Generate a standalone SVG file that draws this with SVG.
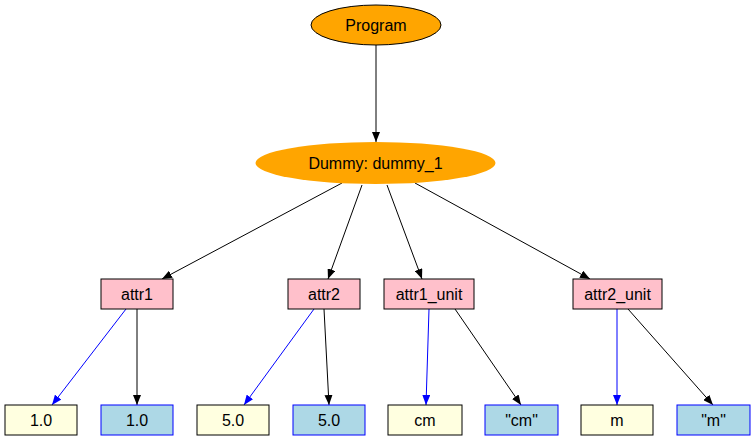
<svg xmlns="http://www.w3.org/2000/svg" width="755" height="440" viewBox="0 0 755 440">
<style>
text{font-family:"Liberation Sans",Arial,sans-serif;font-size:16px;text-anchor:middle;dominant-baseline:central;fill:#000}
.e{stroke:#000;stroke-width:1;fill:none;marker-end:url(#ab)}
.b{stroke:#0000ff;stroke-width:1;fill:none;marker-end:url(#abl)}
.pink{fill:#ffc0cb;stroke:#000;stroke-width:1}
.yel{fill:#ffffe0;stroke:#000;stroke-width:1}
.blu{fill:#add8e6;stroke:#0000ff;stroke-width:1}
</style>
<defs>
<marker id="ab" markerWidth="10" markerHeight="8" refX="10" refY="4" orient="auto" markerUnits="userSpaceOnUse"><path d="M0,0 L10,4 L0,8 z" fill="#000"/></marker>
<marker id="abl" markerWidth="10" markerHeight="8" refX="10" refY="4" orient="auto" markerUnits="userSpaceOnUse"><path d="M0,0 L10,4 L0,8 z" fill="#0000ff"/></marker>
</defs>
<rect width="755" height="440" fill="#fff"/>
<g id="edges">
<line class="e" x1="376" y1="45" x2="376" y2="142"/>
<line class="e" x1="342" y1="183" x2="162" y2="279"/>
<line class="e" x1="362" y1="185" x2="328" y2="279"/>
<line class="e" x1="387" y1="185" x2="422" y2="279"/>
<line class="e" x1="415" y1="183" x2="590" y2="279"/>
<line class="b" x1="126" y1="309" x2="52" y2="405"/>
<line class="e" x1="137" y1="309" x2="137" y2="405"/>
<line class="b" x1="314" y1="309" x2="244" y2="405"/>
<line class="e" x1="324" y1="309" x2="329" y2="405"/>
<line class="b" x1="429" y1="309" x2="426" y2="405"/>
<line class="e" x1="455" y1="309" x2="521" y2="405"/>
<line class="b" x1="617" y1="309" x2="617" y2="405"/>
<line class="e" x1="628" y1="309" x2="713" y2="405"/>
</g>
<g id="program"><ellipse cx="376" cy="25" rx="65" ry="20" fill="#ffa500" stroke="#000"/><text x="376" y="25">Program</text></g>
<g id="dummy"><ellipse cx="375.5" cy="163" rx="120" ry="21" fill="#ffa500"/><text x="375.5" y="163">Dummy: dummy_1</text></g>
<g id="attr1"><rect class="pink" x="101" y="279" width="72" height="30"/><text x="137" y="294">attr1</text></g>
<g id="attr2"><rect class="pink" x="288" y="279" width="72" height="30"/><text x="324" y="294">attr2</text></g>
<g id="attr1_unit"><rect class="pink" x="384" y="279" width="90" height="30"/><text x="429" y="294">attr1_unit</text></g>
<g id="attr2_unit"><rect class="pink" x="573" y="279" width="89" height="30"/><text x="617.5" y="294">attr2_unit</text></g>
<g id="v1"><rect class="yel" x="5" y="405" width="72" height="30"/><text x="41" y="420">1.0</text></g>
<g id="s1"><rect class="blu" x="101" y="405" width="72" height="30"/><text x="137" y="420">1.0</text></g>
<g id="v2"><rect class="yel" x="197" y="405" width="72" height="30"/><text x="233" y="420">5.0</text></g>
<g id="s2"><rect class="blu" x="293" y="405" width="72" height="30"/><text x="329" y="420">5.0</text></g>
<g id="v3"><rect class="yel" x="388" y="405" width="74" height="30"/><text x="425" y="420">cm</text></g>
<g id="s3"><rect class="blu" x="485" y="405" width="73" height="30"/><text x="521.5" y="420">"cm"</text></g>
<g id="v4"><rect class="yel" x="581" y="405" width="72" height="30"/><text x="617" y="420">m</text></g>
<g id="s4"><rect class="blu" x="677" y="405" width="73" height="30"/><text x="713.5" y="420">"m"</text></g>
</svg>
